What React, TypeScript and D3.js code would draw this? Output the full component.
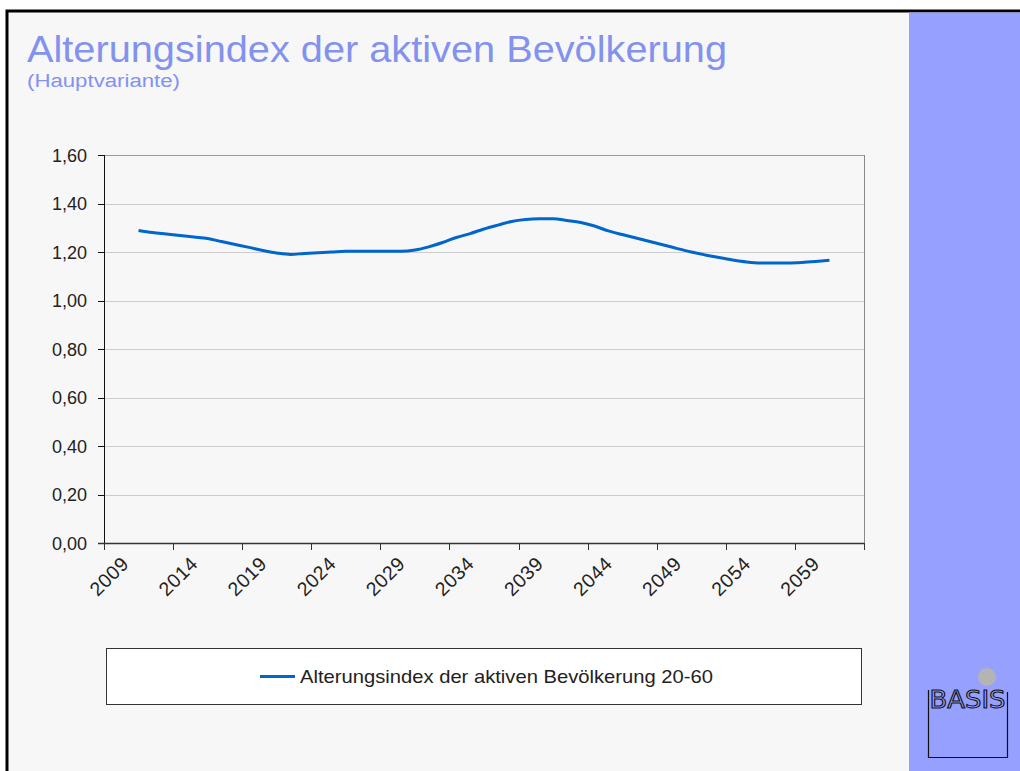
import * as d3 from "d3";
import { useEffect, useRef } from "react";

// category axis (one slot per year), labelled every 5th year
const categories = [
  2009, 2010, 2011, 2012, 2013, 2014, 2015, 2016, 2017, 2018, 2019, 2020,
  2021, 2022, 2023, 2024, 2025, 2026, 2027, 2028, 2029, 2030, 2031, 2032,
  2033, 2034, 2035, 2036, 2037, 2038, 2039, 2040, 2041, 2042, 2043, 2044,
  2045, 2046, 2047, 2048, 2049, 2050, 2051, 2052, 2053, 2054, 2055, 2056,
  2057, 2058, 2059, 2060, 2061, 2062, 2063,
];
const tickYears = [2009, 2014, 2019, 2024, 2029, 2034, 2039, 2044, 2049, 2054, 2059];
const yTicks = [0, 0.2, 0.4, 0.6, 0.8, 1.0, 1.2, 1.4, 1.6];

const years = [
  2011, 2012, 2013, 2014, 2015, 2016, 2017, 2018, 2019, 2020, 2021, 2022,
  2023, 2024, 2025, 2026, 2027, 2028, 2029, 2030, 2031, 2032, 2033, 2034,
  2035, 2036, 2037, 2038, 2039, 2040, 2041, 2042, 2043, 2044, 2045, 2046,
  2047, 2048, 2049, 2050, 2051, 2052, 2053, 2054, 2055, 2056, 2057, 2058,
  2059, 2060, 2061,
];
const values = [
  1.289, 1.28, 1.274, 1.268, 1.262, 1.256, 1.243, 1.231, 1.219, 1.206, 1.196,
  1.19, 1.194, 1.197, 1.2, 1.203, 1.203, 1.203, 1.203, 1.203, 1.208, 1.221,
  1.239, 1.26, 1.276, 1.295, 1.311, 1.326, 1.334, 1.337, 1.337, 1.33, 1.322,
  1.307, 1.287, 1.272, 1.258, 1.243, 1.229, 1.214, 1.2, 1.188, 1.177, 1.167,
  1.159, 1.155, 1.155, 1.155, 1.157, 1.161, 1.166,
];

const seriesName = "Alterungsindex der aktiven Bevölkerung 20-60";
const title = "Alterungsindex der aktiven Bevölkerung";
const subtitle = "(Hauptvariante)";

const FONT = "'Liberation Sans', Arial, Helvetica, sans-serif";

export default function App() {
  const ref = useRef<SVGSVGElement>(null);

  useEffect(() => {
    const svg = d3.select(ref.current);
    svg.selectAll("*").remove();

    const W = 1020,
      H = 771;
    const margin = { top: 155, left: 104, right: 156, bottom: 228 };
    const width = W - margin.left - margin.right,
      height = H - margin.top - margin.bottom;

    // page frame
    svg.append("rect").attr("width", W).attr("height", H).attr("fill", "#fff");
    svg
      .append("rect")
      .attr("x", 7)
      .attr("y", 11)
      .attr("width", W)
      .attr("height", H)
      .attr("fill", "#f7f7f7")
      .attr("stroke", "#000")
      .attr("stroke-width", 3);
    svg
      .append("rect")
      .attr("x", 909)
      .attr("y", 12.5)
      .attr("width", W - 909)
      .attr("height", H)
      .attr("fill", "#96a0ff");

    // titles
    svg
      .append("text")
      .attr("x", 27)
      .attr("y", 62)
      .attr("fill", "#8292ee")
      .attr("font-family", FONT)
      .attr("font-size", "37px")
      .attr("textLength", 700)
      .attr("lengthAdjust", "spacingAndGlyphs")
      .text(title);
    svg
      .append("text")
      .attr("x", 27)
      .attr("y", 87)
      .attr("fill", "#8292ee")
      .attr("font-family", FONT)
      .attr("font-size", "18px")
      .attr("textLength", 153)
      .attr("lengthAdjust", "spacingAndGlyphs")
      .text(subtitle);

    const g = svg
      .append("g")
      .attr("transform", `translate(${margin.left},${margin.top})`);

    const x = d3
      .scaleBand<number>()
      .domain(categories)
      .range([0, width]);
    const y = d3.scaleLinear().domain([0, 1.6]).range([height, 0]);

    // gridlines
    g.selectAll(".grid")
      .data(yTicks.filter((t) => t > 0))
      .enter()
      .append("line")
      .attr("x1", 0)
      .attr("x2", width)
      .attr("y1", (d) => Math.round(y(d)) + 0.5)
      .attr("y2", (d) => Math.round(y(d)) + 0.5)
      .attr("stroke", (d) => (d === 1.6 ? "#9a9a9a" : "#cdcdcd"))
      .attr("stroke-width", 1);

    // right border of plot area
    g.append("line")
      .attr("x1", width + 0.5)
      .attr("x2", width + 0.5)
      .attr("y1", y(1.6))
      .attr("y2", height)
      .attr("stroke", "#8a8a8a");

    // y axis
    const fmt = (v: number) => d3.format(".2f")(v).replace(".", ",");
    g.append("line")
      .attr("x1", 0.5)
      .attr("x2", 0.5)
      .attr("y1", 0)
      .attr("y2", height)
      .attr("stroke", "#111");
    g.selectAll(".ytick")
      .data(yTicks)
      .enter()
      .append("line")
      .attr("x1", -6)
      .attr("x2", 0)
      .attr("y1", (d) => Math.round(y(d)) + 0.5)
      .attr("y2", (d) => Math.round(y(d)) + 0.5)
      .attr("stroke", "#111");
    g.selectAll(".ylabel")
      .data(yTicks)
      .enter()
      .append("text")
      .attr("x", -17)
      .attr("y", (d) => y(d) + 6.5)
      .attr("text-anchor", "end")
      .attr("font-family", FONT)
      .attr("font-size", "18px")
      .attr("fill", "#222")
      .text((d) => fmt(d));

    // x axis
    g.append("line")
      .attr("x1", -6)
      .attr("x2", width)
      .attr("y1", height + 0.5)
      .attr("y2", height + 0.5)
      .attr("stroke", "#333")
      .attr("stroke-width", 1.5);
    const tickX = [...tickYears.map((t) => x(t) ?? 0), x.range()[1]];
    g.selectAll(".xtick")
      .data(tickX)
      .enter()
      .append("line")
      .attr("x1", (d) => Math.round(d) + 0.5)
      .attr("x2", (d) => Math.round(d) + 0.5)
      .attr("y1", height)
      .attr("y2", height + 7)
      .attr("stroke", "#333");
    g.selectAll(".xlabel")
      .data(tickYears)
      .enter()
      .append("text")
      .attr(
        "transform",
        (d) => `translate(${(x(d) ?? 0) + 26},${height + 22}) rotate(-45)`
      )
      .attr("text-anchor", "end")
      .attr("font-family", FONT)
      .attr("font-size", "19.5px")
      .attr("fill", "#222")
      .attr("letter-spacing", "0.6px")
      .text((d) => String(d));

    // series line
    const pts = years.map((yr, i) => ({ yr, v: values[i] }));
    const line = d3
      .line<{ yr: number; v: number }>()
      .x((d) => (x(d.yr) ?? 0) + x.bandwidth() / 2)
      .y((d) => y(d.v))
      .curve(d3.curveMonotoneX);
    g.append("path")
      .datum(pts)
      .attr("d", line)
      .attr("fill", "none")
      .attr("stroke", "#0066cc")
      .attr("stroke-width", 3)
      .attr("stroke-linejoin", "round");

    // legend
    const lg = svg.append("g");
    lg.append("rect")
      .attr("x", 106.5)
      .attr("y", 648.5)
      .attr("width", 755)
      .attr("height", 56)
      .attr("fill", "#fff")
      .attr("stroke", "#333");
    lg.append("line")
      .attr("x1", 260)
      .attr("x2", 295)
      .attr("y1", 676.5)
      .attr("y2", 676.5)
      .attr("stroke", "#0066cc")
      .attr("stroke-width", 3);
    lg.append("text")
      .attr("x", 300)
      .attr("y", 683)
      .attr("font-family", FONT)
      .attr("font-size", "18.5px")
      .attr("fill", "#222")
      .attr("textLength", 413)
      .attr("lengthAdjust", "spacingAndGlyphs")
      .text(seriesName);

    // BASIS logo
    const logo = svg.append("g");
    logo
      .append("circle")
      .attr("cx", 987)
      .attr("cy", 677)
      .attr("r", 9)
      .attr("fill", "#b4b4b4");
    logo
      .append("path")
      .attr("d", "M928.5,690 L928.5,757.5 L1007.5,757.5 L1007.5,692")
      .attr("fill", "none")
      .attr("stroke", "#111")
      .attr("stroke-width", 1.2);
    logo
      .append("text")
      .attr("x", 967.5)
      .attr("y", 708)
      .attr("text-anchor", "middle")
      .attr("font-family", "'DejaVu Sans Condensed', 'Liberation Sans Narrow', sans-serif")
      .attr("font-size", "25px")
      .attr("textLength", 76)
      .attr("lengthAdjust", "spacingAndGlyphs")
      .attr("fill", "#96a0ff")
      .attr("stroke", "#111")
      .attr("stroke-width", 1)
      .text("BASIS");
  }, []);

  return (
    <div style={{ position: "absolute", left: 0, top: 0, width: 1020, height: 771 }}>
      <svg ref={ref} width={1020} height={771} style={{ display: "block" }} />
    </div>
  );
}
